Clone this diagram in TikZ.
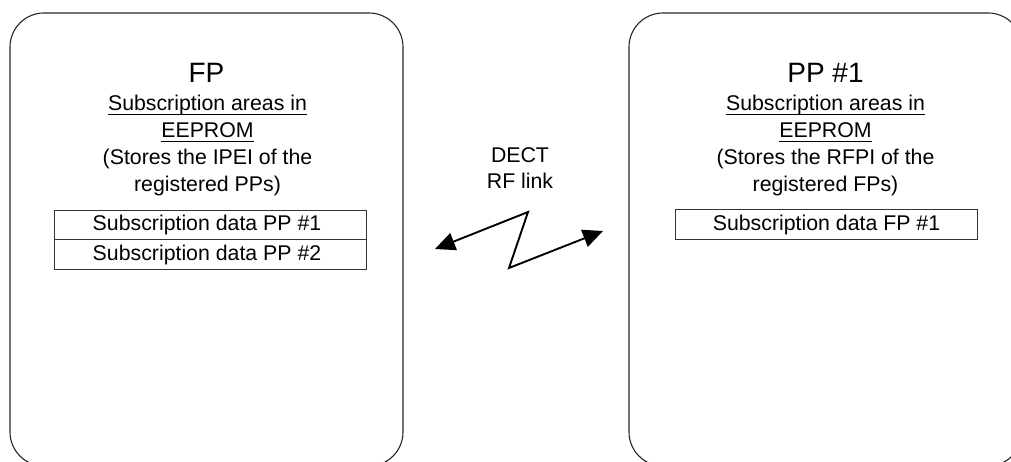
\documentclass[tikz,border=0pt]{standalone}
\usepackage{fontspec}
\setmainfont{Liberation Sans}
\usetikzlibrary{arrows.meta}
\begin{document}
\begin{tikzpicture}[x=1pt,y=-1pt,
  outer/.style={draw=black!85,line width=1.1pt,rounded corners=34pt,minimum width=393pt,minimum height=453pt,inner sep=0pt},
  txt/.style={anchor=base,inner sep=0pt,font=\fontsize{21.3}{26}\selectfont},
  big/.style={anchor=base,inner sep=0pt,font=\fontsize{28}{32}\selectfont},
  databox/.style={draw=black!80,line width=1pt,inner sep=0pt,font=\fontsize{21.3}{26}\selectfont,anchor=north west},
  ul/.style={line width=1pt},
  link/.style={line width=1.9pt,{Triangle[length=20pt,width=18pt]}-{Triangle[length=20pt,width=18pt]}}]
\useasboundingbox (0,0) rectangle (1011,462);
\clip (0,0) rectangle (1011,462);
% outer boxes
\node[outer] (fpbox) at (206.5,239.5) {};
\node[outer] (ppbox) at (825.5,239.5) {};
% left texts
\node[big] (fp) at (206.5,83) {FP};
\node[txt] (l1) at (207.5,111) {Subscription areas in};
\node[txt] (l2) at (207.5,138) {EEPROM};
\node[txt] (l3) at (207.5,165) {(Stores the IPEI of the};
\node[txt] (l4) at (207.5,192) {registered PPs)};
\draw[ul] ([yshift=-3.5pt]l1.base west) -- ([yshift=-3.5pt]l1.base east);
\draw[ul] ([yshift=-3.5pt]l2.base west) -- ([yshift=-3.5pt]l2.base east);
\node[databox,minimum width=312pt,minimum height=29.5pt] (d1) at (54,210) {\hspace*{-7pt}Subscription data PP \#1};
\node[databox,minimum width=312pt,minimum height=29.5pt] (d2) at (54,239.5) {\hspace*{-7pt}Subscription data PP \#2};
% right texts
\node[big] (pp) at (825.5,83) {PP \#1};
\node[txt] (r1) at (825.5,111) {Subscription areas in};
\node[txt] (r2) at (825.5,138) {EEPROM};
\node[txt] (r3) at (825.5,165) {(Stores the RFPI of the};
\node[txt] (r4) at (825.5,192) {registered FPs)};
\draw[ul] ([yshift=-3.5pt]r1.base west) -- ([yshift=-3.5pt]r1.base east);
\draw[ul] ([yshift=-3.5pt]r2.base west) -- ([yshift=-3.5pt]r2.base east);
\node[databox,minimum width=302pt,minimum height=30pt] (d3) at (675,209) {Subscription data FP \#1};
% link
\node[txt] (dect) at (520,163) {DECT};
\node[txt] (rf) at (520,189) {RF link};
\coordinate (za) at (435,249);
\coordinate (z1) at (528,212);
\coordinate (z2) at (509,268);
\coordinate (zb) at (603,231);
\draw[link] (za) -- (z1) -- (z2) -- (zb);
\end{tikzpicture}
\end{document}
